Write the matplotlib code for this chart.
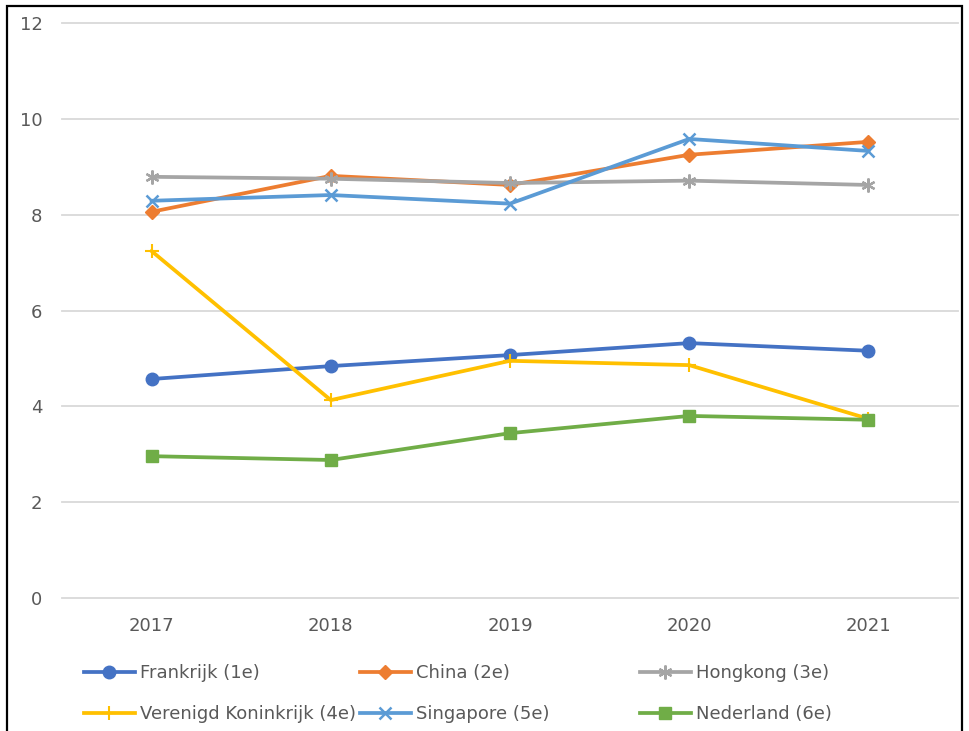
import matplotlib.pyplot as plt
from matplotlib.patches import Rectangle

years = ["2017", "2018", "2019", "2020", "2021"]

frankrijk = [4.57, 4.84, 5.07, 5.32, 5.16]
china = [8.06, 8.81, 8.62, 9.25, 9.52]
hongkong = [8.79, 8.75, 8.66, 8.71, 8.62]
verenigd_koninkrijk = [7.24, 4.13, 4.95, 4.86, 3.74]
singapore = [8.29, 8.41, 8.23, 9.58, 9.33]
nederland = [2.96, 2.88, 3.44, 3.80, 3.72]

labels = ["Frankrijk (1e)", "China (2e)", "Hongkong (3e)",
          "Verenigd Koninkrijk (4e)", "Singapore (5e)", "Nederland (6e)"]

plt.rcParams['font.family'] = ['DejaVu Sans']

fig = plt.figure(figsize=(9.69, 7.31), dpi=100)
ax = fig.add_axes([62 / 969, 133 / 731, 896 / 969, 575 / 731])

x = range(len(years))
lw = 2.7
series = [
    (frankrijk, "#4472C4", dict(marker="o", markersize=9)),
    (china, "#ED7D31", dict(marker="D", markersize=7)),
    (hongkong, "#A5A5A5", dict(marker=(6, 2, 0), markersize=10, markeredgewidth=1.6)),
    (verenigd_koninkrijk, "#FFC000", dict(marker="+", markersize=10, markeredgewidth=1.5)),
    (singapore, "#5B9BD5", dict(marker="x", markersize=9, markeredgewidth=1.8)),
    (nederland, "#70AD47", dict(marker="s", markersize=9)),
]

lines = []
for (vals, col, mk), lab in zip(series, labels):
    ln, = ax.plot(x, vals, color=col, linewidth=lw, label=lab,
                  markerfacecolor=col, markeredgecolor=col, **mk)
    lines.append(ln)

ax.set_xlim(-0.5, len(years) - 0.5)
ax.set_ylim(0, 12)
ax.set_yticks(range(0, 13, 2))
ax.set_xticks(list(x))
ax.set_xticklabels(years)
ax.grid(axis="y", color="#D9D9D9", linewidth=1.3)
ax.set_axisbelow(True)
for gl in ax.yaxis.get_gridlines():
    gl.set_clip_on(False)
for s in ax.spines.values():
    s.set_visible(False)
ax.tick_params(length=0, labelsize=13, labelcolor="#595959", pad=14)

# legend: three columns placed by hand
col_x = [84, 360, 640]
for i, cx in enumerate(col_x):
    handles = [lines[i], lines[i + 3]]
    leg = fig.legend(handles, [h.get_label() for h in handles],
                     loc="upper left", bbox_to_anchor=(cx / 969, 1 - 664 / 731),
                     frameon=False, fontsize=13, handlelength=2.8,
                     handletextpad=0.3, labelspacing=1.3, borderpad=0,
                     borderaxespad=0)
    for t in leg.get_texts():
        t.set_color("#595959")

fig.patches.append(Rectangle((7 / 969, -0.02), 955 / 969, 1.02 - 6 / 731,
                             transform=fig.transFigure, fill=False,
                             edgecolor="black", linewidth=1.6, zorder=10))

fig.savefig("out.png", dpi=100)
